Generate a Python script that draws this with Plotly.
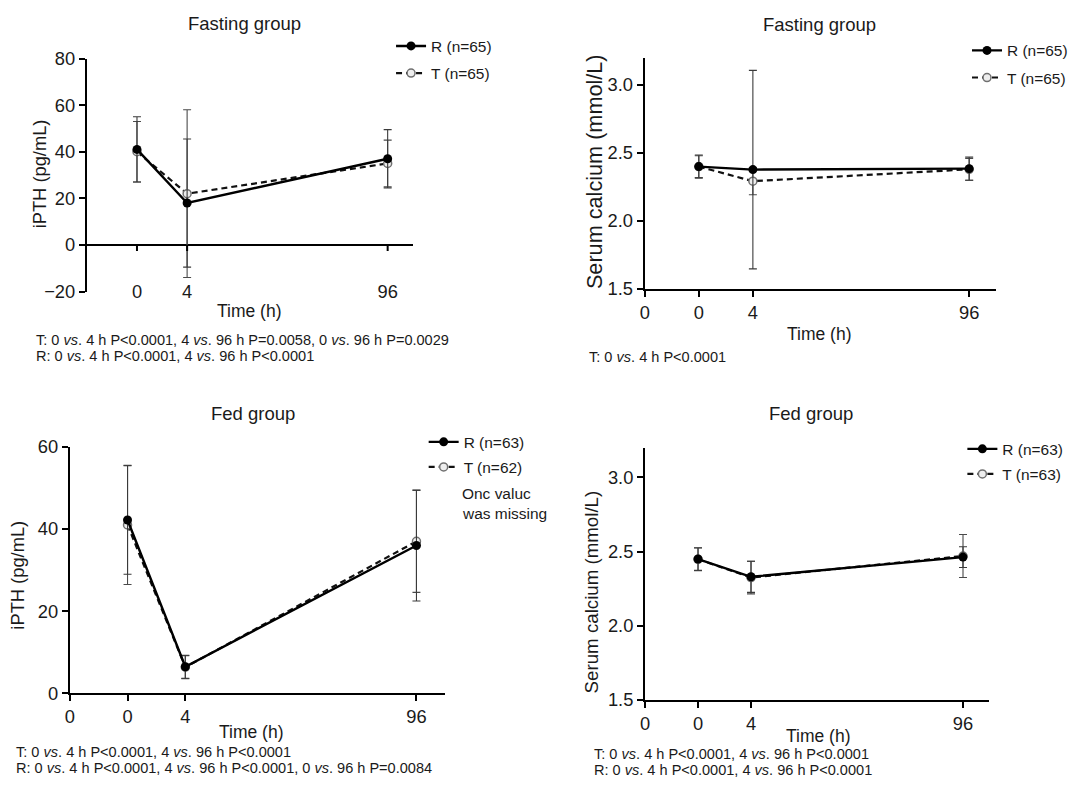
import plotly.graph_objects as go

# ---------------- data ----------------
time_labels = ["0", "4", "96"]

fast_pth_R = [41.0, 18.0, 37.0]
fast_pth_R_sd = [14.0, 27.5, 12.5]
fast_pth_T = [40.0, 22.0, 35.0]
fast_pth_T_sd = [13.0, 36.0, 10.0]

fast_ca_R = [2.40, 2.378, 2.385]
fast_ca_R_sd = [0.085, 0.73, 0.085]
fast_ca_T = [2.40, 2.293, 2.38]
fast_ca_T_sd = [0.08, 0.10, 0.08]

fed_pth_R = [42.2, 6.5, 36.0]
fed_pth_R_sd = [13.2, 2.8, 13.5]
fed_pth_T = [41.0, 6.4, 37.0]
fed_pth_T_sd = [14.5, 2.8, 12.4]

fed_ca_R = [2.45, 2.33, 2.463]
fed_ca_R_sd = [0.076, 0.105, 0.07]
fed_ca_T = [2.448, 2.325, 2.47]
fed_ca_T_sd = [0.076, 0.11, 0.145]

n_labels = {
    1: ("R (n=65)", "T (n=65)"),
    2: ("R (n=65)", "T (n=65)"),
    3: ("R (n=63)", "T (n=62)"),
    4: ("R (n=63)", "T (n=63)"),
}

# ---------------- layout constants ----------------
W, H = 1073, 789
FONT = "Liberation Sans, Arial, Helvetica, sans-serif"
TXT = "#1a1a1a"
cat_pos = {"0": 1, "4": 2, "96": 6}
X_RANGE = [0, 6.5]

# the page is photographed with a small inset; target pixel positions below are
# mapped into figure pixels with this calibration
OX, SX = 5.5, 0.99
OY, SY = 8.0, 0.976
FS = 1 / 0.983


def fx(x):
    return (x - OX) / SX


def fy(y):
    return (y - OY) / SY


def px(x):
    return fx(x) / W


def py(y):
    return 1 - fy(y) / H


def f(size):
    return round(size * FS, 2)


fig = go.Figure()


def add_panel(i, R, Rsd, T, Tsd):
    xa = "x" if i == 1 else f"x{i}"
    ya = "y" if i == 1 else f"y{i}"
    lg = "legend" if i == 1 else f"legend{i}"
    xs = [cat_pos[t] for t in time_labels]
    nR, nT = n_labels[i]
    fig.add_trace(go.Scatter(
        x=xs, y=T, name=nT, xaxis=xa, yaxis=ya, legend=lg, legendgroup=f"T{i}",
        legendrank=2, mode="lines+markers",
        line=dict(color="#111111", width=2.2, dash="6px,4px"),
        marker=dict(symbol="circle", size=8, color="#eeeeee",
                    line=dict(color="#707070", width=1.5)),
        error_y=dict(type="data", array=Tsd, visible=True, color="#4a4a4a",
                     thickness=1.1, width=4),
    ))
    fig.add_trace(go.Scatter(
        x=xs, y=R, name=nR, xaxis=xa, yaxis=ya, legend=lg, legendgroup=f"R{i}",
        legendrank=1, mode="lines+markers",
        line=dict(color="#000000", width=2.4),
        marker=dict(symbol="circle", size=9, color="#000000"),
        error_y=dict(type="data", array=Rsd, visible=True, color="#3a3a3a",
                     thickness=1.1, width=4),
    ))


add_panel(1, fast_pth_R, fast_pth_R_sd, fast_pth_T, fast_pth_T_sd)
add_panel(2, fast_ca_R, fast_ca_R_sd, fast_ca_T, fast_ca_T_sd)
add_panel(3, fed_pth_R, fed_pth_R_sd, fed_pth_T, fed_pth_T_sd)
add_panel(4, fed_ca_R, fed_ca_R_sd, fed_ca_T, fed_ca_T_sd)

tickfont = dict(family=FONT, size=f(18), color=TXT)
axis_common = dict(showgrid=False, zeroline=False, linecolor="black", linewidth=2,
                   ticks="outside", ticklen=6, tickwidth=2, tickcolor="black",
                   tickfont=tickfont)

tv = [cat_pos[t] for t in time_labels]

# target plot-area boxes (left, right), (top, bottom) in photographed pixels
dom = {
    1: dict(x=(88.3, 418.0), y=(55.7, 289.3)),
    2: dict(x=(652.7, 1008.3), y=(55.0, 286.7)),
    3: dict(x=(71.0, 451.0), y=(445.0, 692.3)),
    4: dict(x=(653.0, 1001.5), y=(446.0, 698.7)),
}


def xd(i):
    return [px(dom[i]["x"][0]), px(dom[i]["x"][1])]


def yd(i):
    return [py(dom[i]["y"][1]), py(dom[i]["y"][0])]


y1_range = [-20, 80]

fig.update_layout(
    xaxis=dict(domain=xd(1), range=X_RANGE, anchor="free", position=1 - (fy(290) - 14) / H,
               showline=False, ticks="", showgrid=False, zeroline=False,
               tickvals=tv, ticktext=time_labels, tickfont=tickfont),
    yaxis=dict(domain=yd(1), range=y1_range, anchor="x", tickvals=[-20, 0, 20, 40, 60, 80],
               **{**axis_common, "zeroline": True}, zerolinecolor="black", zerolinewidth=2),
    xaxis2=dict(domain=xd(2), range=X_RANGE, anchor="y2", tickvals=[0] + tv,
                ticktext=["0"] + time_labels, **axis_common),
    yaxis2=dict(domain=yd(2), range=[1.5, 3.2], anchor="x2", tickvals=[1.5, 2.0, 2.5, 3.0],
                tickformat=".1f", **axis_common),
    xaxis3=dict(domain=xd(3), range=X_RANGE, anchor="y3", tickvals=[0] + tv,
                ticktext=["0"] + time_labels, **axis_common),
    yaxis3=dict(domain=yd(3), range=[0, 60], anchor="x3", tickvals=[0, 20, 40, 60],
                **axis_common),
    xaxis4=dict(domain=xd(4), range=X_RANGE, anchor="y4", tickvals=[0] + tv,
                ticktext=["0"] + time_labels, **axis_common),
    yaxis4=dict(domain=yd(4), range=[1.5, 3.2], anchor="x4", tickvals=[1.5, 2.0, 2.5, 3.0],
                tickformat=".1f", **axis_common),
)

# tick marks hanging below the zero line of panel 1
for v in tv:
    fig.add_shape(type="line", xref="x", yref="y", x0=v, x1=v, ysizemode="pixel",
                  yanchor=0, y0=0, y1=-6, line=dict(color="black", width=2))


def leg(text_x, first_y, gap):
    return dict(x=(fx(text_x) - 36) / W, y=1 - (fy(first_y) - 18) / H,
                xanchor="left", yanchor="top", bgcolor="rgba(0,0,0,0)",
                font=dict(family=FONT, size=f(15.2), color=TXT), tracegroupgap=gap,
                itemwidth=30, borderwidth=0)


fig.update_layout(
    legend=leg(431.7, 44.0, 4),
    legend2=leg(1014.8, 48.5, 4),
    legend3=leg(464.7, 441.0, 2),
    legend4=leg(1009.7, 448.0, 2),
)

annotations = []


def ann(text, x, y, size=18, angle=0, xanchor="center", yanchor="middle"):
    annotations.append(dict(text=text, x=px(x), y=py(y), xref="paper", yref="paper",
                            showarrow=False, textangle=angle, xanchor=xanchor,
                            yanchor=yanchor, font=dict(family=FONT, size=f(size), color=TXT)))


# panel titles
ann("Fasting group", 247.5, 21.0, size=18.2)
ann("Fasting group", 829.5, 21.5, size=18.2)
ann("Fed group", 256.0, 412.0, size=18.2)
ann("Fed group", 820.6, 412.0, size=18.2)
# axis titles
ann("iPTH (pg/mL)", 40.0, 171.7, angle=-90)
ann("iPTH (pg/mL)", 18.5, 573.3, angle=-90)
ann("Serum calcium (mmol/L)", 601.7, 169.2, size=21.3, angle=-90)
ann("Serum calcium (mmol/L)", 598.3, 590.0, size=18.4, angle=-90)
ann("Time (h)", 253.3, 309.0, size=17.2)
ann("Time (h)", 830.0, 331.7, size=17.2)
ann("Time (h)", 254.5, 731.0, size=17.2)
ann("Time (h)", 828.1, 735.1, size=17.2)
# note under the fed-group legend
ann("Onc valuc", 466.0, 491.7, size=15.2, xanchor="left")
ann("was missing", 466.0, 512.3, size=15.2, xanchor="left")
# footnotes (rows spaced so their boxes do not overlap; bottom rows kept inside the page)
fs = 14.3
ann("T: 0 <i>vs</i>. 4 h P&lt;0.0001, 4 <i>vs</i>. 96 h P=0.0058, 0 <i>vs</i>. 96 h P=0.0029", 34.5, 337.9, size=fs, xanchor="left")
ann("R: 0 <i>vs</i>. 4 h P&lt;0.0001, 4 <i>vs</i>. 96 h P&lt;0.0001", 34.5, 354.0, size=fs, xanchor="left")
ann("T: 0 <i>vs</i>. 4 h P&lt;0.0001", 594.0, 355.0, size=fs, xanchor="left")
ann("T: 0 <i>vs</i>. 4 h P&lt;0.0001, 4 <i>vs</i>. 96 h P&lt;0.0001", 15.0, 751.2, size=fs, xanchor="left")
ann("R: 0 <i>vs</i>. 4 h P&lt;0.0001, 4 <i>vs</i>. 96 h P&lt;0.0001, 0 <i>vs</i>. 96 h P=0.0084", 15.0, 767.3, size=fs, xanchor="left")
ann("T: 0 <i>vs</i>. 4 h P&lt;0.0001, 4 <i>vs</i>. 96 h P&lt;0.0001", 599.0, 753.2, size=fs, xanchor="left")
ann("R: 0 <i>vs</i>. 4 h P&lt;0.0001, 4 <i>vs</i>. 96 h P&lt;0.0001", 599.0, 769.1, size=fs, xanchor="left")

fig.update_layout(
    width=W, height=H, margin=dict(l=0, r=0, t=0, b=0),
    paper_bgcolor="white", plot_bgcolor="white",
    showlegend=True, annotations=annotations,
    font=dict(family=FONT, color=TXT),
)

fig.write_html("out.html")
